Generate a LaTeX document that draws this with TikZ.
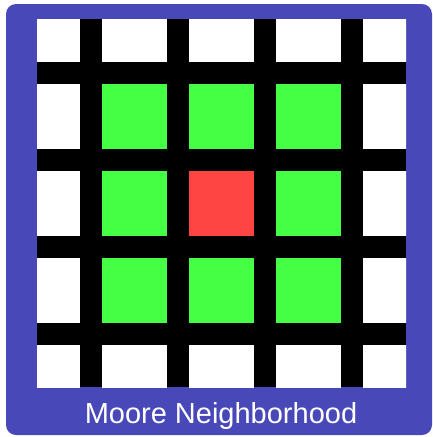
\documentclass[tikz,border=0pt]{standalone}
\usepackage{fontspec}
\setmainfont{Liberation Sans}
\definecolor{frameblue}{HTML}{4848B8}
\definecolor{cellgreen}{HTML}{44FF44}
\definecolor{cellred}{HTML}{FF4444}
\begin{document}
\begin{tikzpicture}[x=1pt,y=-1pt,
  cell/.style={rectangle,draw=none,minimum width=65pt,minimum height=65pt,inner sep=0pt,fill=white},
  nbr/.style={cell,fill=cellgreen},
  ctr/.style={cell,fill=cellred}]
\useasboundingbox (0,0) rectangle (433,437);
\fill[frameblue,rounded corners=10pt] (6,4) rectangle (432,435);
\fill[black] (37,19) rectangle (406,387);
\begin{scope}
\clip (37,19) rectangle (406,387);
\foreach \i in {0,...,4}{
  \foreach \j in {0,...,4}{
    \pgfmathtruncatemacro{\di}{abs(\i-2)}
    \pgfmathtruncatemacro{\dj}{abs(\j-2)}
    \pgfmathtruncatemacro{\dm}{max(\di,\dj)}
    \ifnum\dm=0
      \node[ctr] (c-\i-\j) at (47.5+87*\i,29.5+87*\j) {};
    \else\ifnum\dm=1
      \node[nbr] (c-\i-\j) at (47.5+87*\i,29.5+87*\j) {};
    \else
      \node[cell] (c-\i-\j) at (47.5+87*\i,29.5+87*\j) {};
    \fi\fi
  }
}
\end{scope}
\node[anchor=base,text=white,inner sep=0pt,font=\fontsize{29}{35}\selectfont] (title) at (221,423) {Moore Neighborhood};
\end{tikzpicture}
\end{document}
